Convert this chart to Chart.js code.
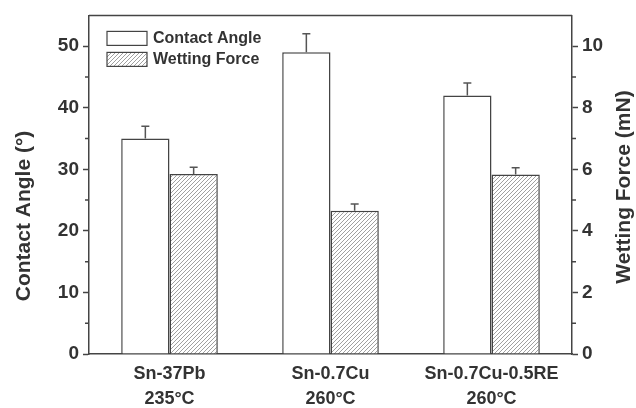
<!DOCTYPE html>
<html>
<head>
<meta charset="utf-8">
<script src="https://cdn.jsdelivr.net/npm/chart.js@4.4.0/dist/chart.umd.min.js"></script>
<style>
  body { margin: 0; background: #fff; }
  canvas { display: block; }
</style>
</head>
<body>
<canvas id="wetChart" width="636" height="408"></canvas>
<script>
// Contact angle / wetting force of three solders

const categories = [['Sn-37Pb', '235°C'], ['Sn-0.7Cu', '260°C'], ['Sn-0.7Cu-0.5RE', '260°C']];
const contactAngle = [35, 49, 42];
const contactAngleErr = [2, 3, 2];
const wettingForce = [5.85, 4.65, 5.83];
const wettingForceErr = [0.22, 0.22, 0.22];
const leftTicks = [0, 10, 20, 30, 40, 50];
const leftMinor = [5, 15, 25, 35, 45];
const rightTicks = [0, 2, 4, 6, 8, 10];
const rightMinor = [1, 3, 5, 7, 9];

const FONT = '"Liberation Sans", Arial, sans-serif';
const AXIS = '#444';
const TEXT = '#333';

// hatch pattern "////"
function makeHatch() {
    const c = document.createElement('canvas');
    c.width = 4;
    c.height = 4;
    const g = c.getContext('2d');
    g.fillStyle = '#fff';
    g.fillRect(0, 0, 4, 4);
    g.strokeStyle = '#a0a0a0';
    g.lineWidth = 1;
    g.beginPath();
    g.moveTo(0, 4); g.lineTo(4, 0);
    g.moveTo(-1, 1); g.lineTo(1, -1);
    g.moveTo(3, 5); g.lineTo(5, 3);
    g.stroke();
    return g.createPattern(c, 'repeat');
}
const hatch = makeHatch();

const errors = [contactAngleErr, wettingForceErr];

const extrasPlugin = {
    id: 'extras',
    afterDatasetsDraw(chart) {
        const ctx = chart.ctx;
        const area = chart.chartArea;
        ctx.save();

        // error bars (upper half only)
        ctx.strokeStyle = '#555';
        ctx.lineWidth = 1.5;
        chart.data.datasets.forEach((ds, i) => {
            const meta = chart.getDatasetMeta(i);
            const scale = chart.scales[ds.yAxisID];
            meta.data.forEach((bar, j) => {
                const yTop = scale.getPixelForValue(ds.data[j] + errors[i][j]);
                ctx.beginPath();
                ctx.moveTo(bar.x, bar.y);
                ctx.lineTo(bar.x, yTop);
                ctx.moveTo(bar.x - 4, yTop);
                ctx.lineTo(bar.x + 4, yTop);
                ctx.stroke();
            });
        });

        // top frame line
        ctx.strokeStyle = AXIS;
        ctx.lineWidth = 1.5;
        ctx.beginPath();
        ctx.moveTo(area.left, area.top);
        ctx.lineTo(area.right, area.top);
        ctx.stroke();

        // minor ticks
        const y = chart.scales.y, y1 = chart.scales.y1;
        ctx.beginPath();
        leftMinor.forEach(v => {
            const p = y.getPixelForValue(v);
            ctx.moveTo(area.left - 4, p);
            ctx.lineTo(area.left, p);
        });
        rightMinor.forEach(v => {
            const p = y1.getPixelForValue(v);
            ctx.moveTo(area.right, p);
            ctx.lineTo(area.right + 4, p);
        });
        ctx.stroke();

        // legend inside plot
        ctx.font = 'bold 16px ' + FONT;
        ctx.textBaseline = 'middle';
        ctx.textAlign = 'left';
        chart.data.datasets.forEach((ds, i) => {
            const bx = area.left + 18;
            const by = area.top + 16 + i * 21;
            ctx.fillStyle = ds.backgroundColor;
            ctx.fillRect(bx, by, 40, 14);
            ctx.strokeStyle = AXIS;
            ctx.lineWidth = 1.2;
            ctx.strokeRect(bx, by, 40, 14);
            ctx.fillStyle = TEXT;
            ctx.fillText(ds.label, bx + 46, by + 7);
        });

        // axis titles, both reading bottom to top
        ctx.font = 'bold 21px ' + FONT;
        ctx.textAlign = 'center';
        ctx.fillStyle = TEXT;
        ctx.save();
        ctx.translate(24, 216);
        ctx.rotate(-Math.PI / 2);
        ctx.fillText('Contact Angle (°)', 0, 0);
        ctx.restore();
        ctx.save();
        ctx.translate(624, 187);
        ctx.rotate(-Math.PI / 2);
        ctx.fillText('Wetting Force (mN)', 0, 0);
        ctx.restore();

        ctx.restore();
    }
};

const ctx = document.getElementById('wetChart').getContext('2d');

const wetChart = new Chart(ctx, {
    type: 'bar',
    data: {
        labels: categories,
        datasets: [{
            label: 'Contact Angle',
            data: contactAngle,
            yAxisID: 'y',
            backgroundColor: '#ffffff',
            borderColor: AXIS,
            borderWidth: 1.5
        }, {
            label: 'Wetting Force',
            data: wettingForce,
            yAxisID: 'y1',
            backgroundColor: hatch,
            borderColor: AXIS,
            borderWidth: 1.5
        }]
    },
    options: {
        responsive: false,
        animation: false,
        categoryPercentage: 0.6,
        barPercentage: 1.0,
        layout: {
            padding: { top: 14, left: 0, right: 0, bottom: 0 }
        },
        plugins: {
            legend: { display: false },
            tooltip: { enabled: false }
        },
        scales: {
            x: {
                grid: { drawOnChartArea: false, drawTicks: false },
                border: { color: AXIS, width: 1.5 },
                ticks: {
                    color: TEXT,
                    font: { family: FONT, size: 18, weight: 'bold', lineHeight: 1.42 },
                    padding: 7,
                    maxRotation: 0
                },
                afterFit(scale) { scale.height = 54; }
            },
            y: {
                position: 'left',
                min: 0,
                max: 55,
                grid: { drawOnChartArea: false, tickLength: 6, tickColor: AXIS, tickWidth: 1.5 },
                border: { color: AXIS, width: 1.5 },
                ticks: {
                    color: TEXT,
                    font: { family: FONT, size: 19, weight: 'bold' },
                    padding: 4
                },
                afterBuildTicks(scale) {
                    scale.ticks = leftTicks.map(v => ({ value: v }));
                },
                afterFit(scale) { scale.width = 89; }
            },
            y1: {
                position: 'right',
                min: 0,
                max: 11,
                grid: { drawOnChartArea: false, tickLength: 6, tickColor: AXIS, tickWidth: 1.5 },
                border: { color: AXIS, width: 1.5 },
                ticks: {
                    color: TEXT,
                    font: { family: FONT, size: 19, weight: 'bold' },
                    padding: 4
                },
                afterBuildTicks(scale) {
                    scale.ticks = rightTicks.map(v => ({ value: v }));
                },
                afterFit(scale) { scale.width = 64; }
            }
        }
    },
    plugins: [extrasPlugin]
});
</script>
</body>
</html>
